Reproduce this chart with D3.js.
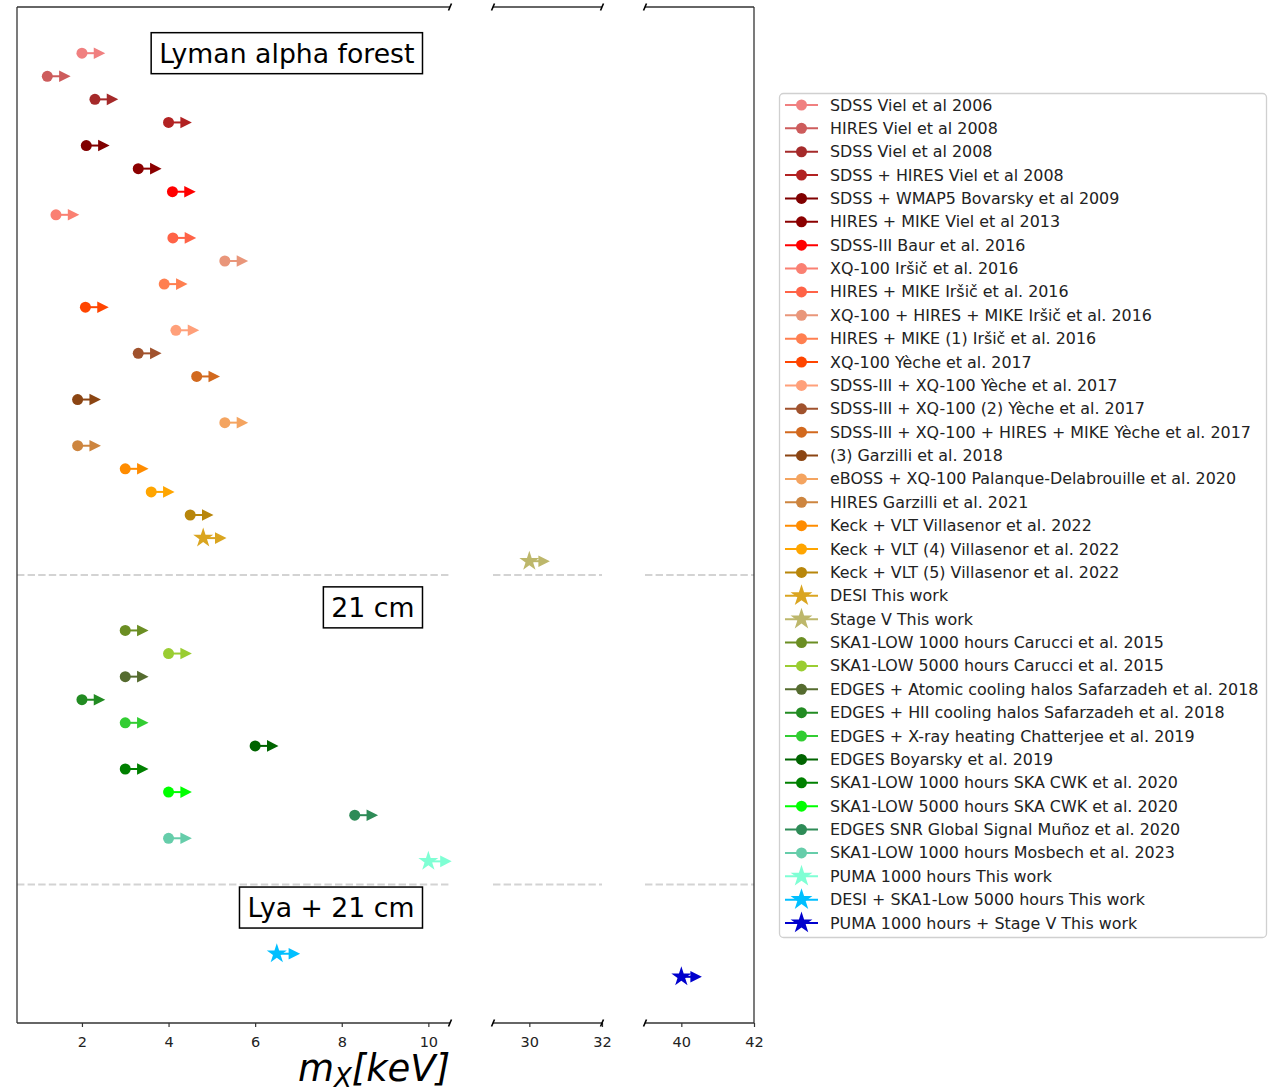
<!DOCTYPE html>
<html>
<head>
<meta charset="utf-8">
<script src="https://cdn.jsdelivr.net/npm/d3@7"></script>
<style>
  body { margin: 0; background: #fff; }
  text { font-family: "DejaVu Sans", sans-serif; }
</style>
</head>
<body>
<div id="chart"></div>
<script>
// data
var names = ['SDSS Viel et al 2006','HIRES Viel et al 2008','SDSS Viel et al 2008',
  'SDSS + HIRES Viel et al 2008','SDSS + WMAP5 Bovarsky et al 2009','HIRES + MIKE Viel et al 2013',
  'SDSS-III Baur et al. 2016','XQ-100 Iršič et al. 2016','HIRES + MIKE Iršič et al. 2016',
  'XQ-100 + HIRES + MIKE Iršič et al. 2016','HIRES + MIKE (1) Iršič et al. 2016',
  'XQ-100 Yèche et al. 2017','SDSS-III + XQ-100 Yèche et al. 2017',
  'SDSS-III + XQ-100 (2) Yèche et al. 2017','SDSS-III + XQ-100 + HIRES + MIKE Yèche et al. 2017',
  '(3) Garzilli et al. 2018','eBOSS + XQ-100 Palanque-Delabrouille et al. 2020',
  'HIRES Garzilli et al. 2021','Keck + VLT Villasenor et al. 2022','Keck + VLT (4) Villasenor et al. 2022',
  'Keck + VLT (5) Villasenor et al. 2022','DESI This work','Stage V This work',
  'SKA1-LOW 1000 hours Carucci et al. 2015','SKA1-LOW 5000 hours Carucci et al. 2015',
  'EDGES + Atomic cooling halos Safarzadeh et al. 2018','EDGES + HII cooling halos Safarzadeh et al. 2018',
  'EDGES + X-ray heating Chatterjee et al. 2019','EDGES Boyarsky et al. 2019',
  'SKA1-LOW 1000 hours SKA CWK et al. 2020','SKA1-LOW 5000 hours SKA CWK et al. 2020',
  'EDGES SNR Global Signal Muñoz et al. 2020','SKA1-LOW 1000 hours Mosbech et al. 2023',
  'PUMA 1000 hours This work','DESI + SKA1-Low 5000 hours This work','PUMA 1000 hours + Stage V This work'];

var mass = [2.0, 1.2, 2.3, 4.0, 2.1, 3.3, 4.09, 1.4, 4.1, 5.3, 3.9, 2.08, 4.17, 3.3, 4.65,
  1.9, 5.3, 1.9, 3.0, 3.6, 4.5, 4.8, 30,
  3.0, 4.0, 3.0, 2.0, 3.0, 6.0, 3.0, 4.0, 8.3, 4.0, 10.0,
  6.5, 40];

var rows = [0,1,2,3,4,5,6,7,8,9,10,11,12,13,14,15,16,17,18,19,20,21,22,
  25,26,27,28,29,30,31,32,33,34,35,
  39,40];

var colors = ['lightcoral','indianred','brown','firebrick','maroon','darkred','red','salmon',
  'tomato','darksalmon','coral','orangered','lightsalmon','sienna','chocolate','saddlebrown',
  'sandybrown','peru','darkorange','orange','darkgoldenrod','goldenrod','darkkhaki',
  'olivedrab','yellowgreen','darkolivegreen','forestgreen','limegreen','darkgreen','green',
  'lime','seagreen','mediumaquamarine','aquamarine','deepskyblue','mediumblue'];

var markers = ['o','o','o','o','o','o','o','o','o','o','o','o','o','o','o','o','o','o','o','o','o',
  '*','*','o','o','o','o','o','o','o','o','o','o','*','*','*'];

var groupLabels = ['Lyman alpha forest', '21 cm', 'Lya + 21 cm'];
var groupRows = [0, 24, 37];
var groupLabelX = 9.68;
var separatorRows = [22.6, 36];

var panelDomains = [[0.5, 10.5], [29, 32], [39, 42]];
var panelTicks = [[2, 4, 6, 8, 10], [30, 32], [40, 42]];

// layout
var W = 1284, H = 1091;
var plotTop = 7, plotBottom = 1023;
var panelRanges = [[17, 450], [493, 602], [645, 754]];
var arrowLen = 0.4;

var svg = d3.select('#chart').append('svg')
  .attr('width', W).attr('height', H)
  .style('background', '#fff');

var y = d3.scaleLinear().domain([-2, 42]).range([plotTop, plotBottom]);

var xs = panelDomains.map(function(dom, i) {
  return d3.scaleLinear().domain(dom).range(panelRanges[i]);
});

function panelOf(v) {
  for (var i = 0; i < panelDomains.length; i++) {
    if (v >= panelDomains[i][0] && v <= panelDomains[i][1]) return i;
  }
  return 0;
}

var star = function(r) { return d3.symbol().type(d3.symbolStar).size(r * r / 0.8908)(); };

// separators
xs.forEach(function(x, p) {
  separatorRows.forEach(function(r) {
    svg.append('line')
      .attr('x1', x.range()[0]).attr('x2', x.range()[1])
      .attr('y1', y(r)).attr('y2', y(r))
      .attr('stroke', '#d3d3d3').attr('stroke-width', 2)
      .attr('stroke-dasharray', '7.4,3.2');
  });
});

// spines
var spine = '#333';
xs.forEach(function(x, p) {
  var r = x.range();
  [plotTop, plotBottom].forEach(function(yy) {
    svg.append('line').attr('x1', r[0]).attr('x2', r[1]).attr('y1', yy).attr('y2', yy)
      .attr('stroke', spine).attr('stroke-width', 1.3);
  });
  // ticks
  var ax = svg.append('g').attr('transform', 'translate(0,' + plotBottom + ')')
    .call(d3.axisBottom(x).tickValues(panelTicks[p]).tickSize(4).tickSizeOuter(0).tickFormat(d3.format('d')));
  ax.select('.domain').remove();
  ax.selectAll('.tick line').attr('stroke', spine).attr('stroke-width', 1.2);
  ax.selectAll('.tick text').attr('font-size', 14.5).attr('fill', '#222').attr('y', 10).attr('dy', '0.95em')
    .style('font-family', '"DejaVu Sans", sans-serif');
});
// left spine of panel 1, right spine of panel 3
svg.append('line').attr('x1', 17).attr('x2', 17).attr('y1', plotTop).attr('y2', plotBottom)
  .attr('stroke', spine).attr('stroke-width', 1.3);
svg.append('line').attr('x1', 754).attr('x2', 754).attr('y1', plotTop).attr('y2', plotBottom)
  .attr('stroke', spine).attr('stroke-width', 1.3);

// break marks
[450, 493, 602, 645].forEach(function(bx) {
  [plotTop, plotBottom].forEach(function(by) {
    svg.append('line')
      .attr('x1', bx - 1.5).attr('y1', by + 3.5)
      .attr('x2', bx + 1.5).attr('y2', by - 3.5)
      .attr('stroke', '#000').attr('stroke-width', 1.6);
  });
});

// group labels
groupLabels.forEach(function(lbl, i) {
  var g = svg.append('g');
  var t = g.append('text')
    .attr('x', xs[0](groupLabelX)).attr('y', y(groupRows[i]))
    .attr('text-anchor', 'end').attr('dominant-baseline', 'central')
    .attr('font-size', 26.7).attr('fill', '#000').text(lbl);
  var bb = t.node().getBBox();
  g.insert('rect', 'text')
    .attr('x', bb.x - 8).attr('y', y(groupRows[i]) - 20.5)
    .attr('width', bb.width + 16).attr('height', 41)
    .attr('fill', '#fff').attr('stroke', '#000').attr('stroke-width', 1.5);
});

// points with lower-limit arrows
mass.forEach(function(v, i) {
  var p = panelOf(v);
  var x = xs[p];
  var cx = x(v), cy = y(rows[i]), ex = x(v + arrowLen);
  var c = colors[i];
  svg.append('line').attr('x1', cx).attr('x2', ex).attr('y1', cy).attr('y2', cy)
    .attr('stroke', c).attr('stroke-width', 2);
  svg.append('path')
    .attr('d', 'M' + (ex - 5.5) + ',' + (cy - 5.8) + 'L' + (ex + 6) + ',' + cy + 'L' + (ex - 5.5) + ',' + (cy + 5.8) + 'Z')
    .attr('fill', c);
  if (markers[i] === '*') {
    svg.append('path').attr('d', star(10.5)).attr('transform', 'translate(' + cx + ',' + cy + ')').attr('fill', c);
  } else {
    svg.append('circle').attr('cx', cx).attr('cy', cy).attr('r', 5.5).attr('fill', c);
  }
});

// legend
var lg = svg.append('g');
lg.append('rect').attr('x', 779.5).attr('y', 93.5).attr('width', 487).attr('height', 844)
  .attr('rx', 4).attr('fill', '#fff').attr('stroke', '#d0d0d0').attr('stroke-width', 1.3);
var ly = d3.scaleLinear().domain([0, names.length - 1]).range([105, 923]);
names.forEach(function(n, i) {
  var yy = ly(i), c = colors[i];
  lg.append('line').attr('x1', 785).attr('x2', 818).attr('y1', yy).attr('y2', yy)
    .attr('stroke', c).attr('stroke-width', 2);
  if (markers[i] === '*') {
    lg.append('path').attr('d', star(11.5)).attr('transform', 'translate(801.5,' + yy + ')').attr('fill', c);
  } else {
    lg.append('circle').attr('cx', 801.5).attr('cy', yy).attr('r', 5.5).attr('fill', c);
  }
  lg.append('text').attr('x', 830).attr('y', yy).attr('dominant-baseline', 'central')
    .attr('font-size', 15.9).attr('fill', '#222').text(n);
});

// x label
var xl = svg.append('text').attr('x', 374).attr('y', 1081).attr('text-anchor', 'middle')
  .attr('font-size', 37).attr('font-style', 'italic').attr('fill', '#000');
xl.append('tspan').text('m');
xl.append('tspan').attr('font-size', 26).attr('dy', 6).text('X');
xl.append('tspan').attr('dy', -6).text('[keV]');
</script>
</body>
</html>
